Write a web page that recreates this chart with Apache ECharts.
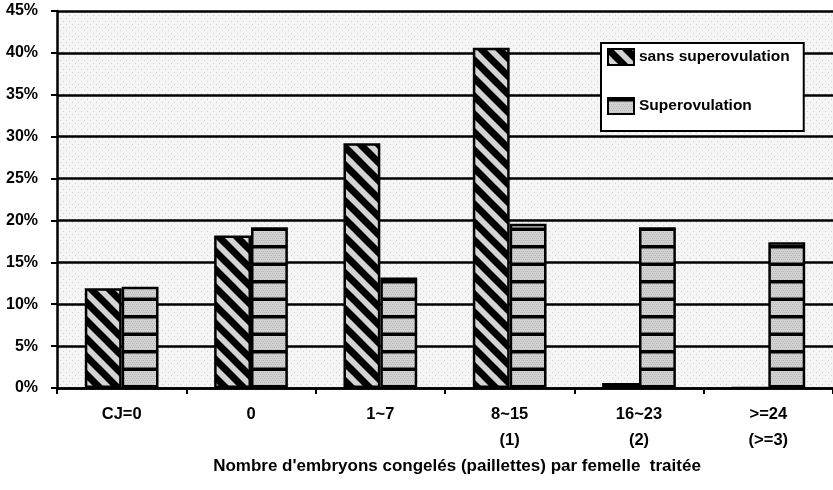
<!DOCTYPE html>
<html>
<head>
<meta charset="utf-8">
<script src="https://cdn.jsdelivr.net/npm/echarts@6/dist/echarts.min.js"></script>
<style>
html,body{margin:0;padding:0;background:#fff;}
#chart{width:833px;height:490px;}
</style>
</head>
<body>
<div id="chart"></div>
<script>
var categories = ['CJ=0', '0', '1~7', '8~15\n(1)', '16~23\n(2)', '>=24\n(>=3)'];
var seriesNames = ['sans superovulation', 'Superovulation'];
var sansValues = [11.9, 18.2, 29.2, 40.6, 0.6, 0];
var superValues = [12.1, 19.2, 13.2, 19.6, 19.2, 17.4];
var yTicks = { min: 0, max: 45, interval: 5 };
var xTitle = "Nombre d'embryons congelés (paillettes) par femelle  traitée";

function makeDiag() {
  var s = 18, c = document.createElement('canvas');
  c.width = s; c.height = s;
  var g = c.getContext('2d');
  g.fillStyle = '#d4d4d4'; g.fillRect(0, 0, s, s);
  g.strokeStyle = '#000'; g.lineWidth = 7; g.lineCap = 'square';
  for (var k = -1; k <= 1; k++) {
    g.beginPath(); g.moveTo(k * s - 2, -2); g.lineTo(k * s + s + 2, s + 2); g.stroke();
  }
  return c;
}
function makeStripe() {
  var w = 4, h = 35, c = document.createElement('canvas');
  c.width = w; c.height = h;
  var g = c.getContext('2d');
  g.fillStyle = '#d2d2d2'; g.fillRect(0, 0, w, h);
  g.fillStyle = '#b8b8b8';
  for (var y = 0; y < h; y += 2) for (var x = (y / 2) % 2; x < w; x += 2) g.fillRect(x, y, 1, 1);
  g.fillStyle = '#000';
  g.fillRect(0, 0, w, 3.5);
  g.fillRect(0, 17.5, w, 3.5);
  return c;
}
function makeBg() {
  var s = 6, c = document.createElement('canvas');
  c.width = s; c.height = s;
  var g = c.getContext('2d');
  g.fillStyle = '#f5f5f5'; g.fillRect(0, 0, s, s);
  g.fillStyle = '#d2d2d2';
  g.fillRect(0, 0, 1, 1); g.fillRect(3, 3, 1, 1);
  return c;
}

var chart = echarts.init(document.getElementById('chart'), null, { renderer: 'canvas' });
var font = 'Liberation Sans, Arial, sans-serif';
chart.setOption({
  animation: false,
  backgroundColor: '#fff',
  grid: {
    left: 57, right: 0, top: 11, bottom: 102,
    show: true, borderWidth: 0,
    backgroundColor: { image: makeBg(), repeat: 'repeat' }
  },
  legend: {
    orient: 'vertical',
    left: 601, top: 43,
    padding: [5, 14, 16, 6],
    itemGap: 31,
    itemWidth: 26, itemHeight: 16,
    backgroundColor: '#fff',
    borderColor: '#000', borderWidth: 2,
    textStyle: { fontFamily: font, fontSize: 15.5, fontWeight: 'bold', color: '#000' },
    data: seriesNames.map(function (n) { return { name: n, icon: 'rect' }; })
  },
  xAxis: {
    type: 'category',
    data: categories,
    name: xTitle,
    nameLocation: 'middle',
    nameGap: 67,
    nameTextStyle: { fontFamily: font, fontSize: 17, fontWeight: 'bold', color: '#000', padding: [0, 0, 0, 24] },
    axisLine: { lineStyle: { color: '#000', width: 2.5 } },
    axisTick: { show: true, length: 6, lineStyle: { color: '#000', width: 2 } },
    axisLabel: { fontFamily: font, fontSize: 16.5, fontWeight: 'bold', color: '#000', margin: 13, lineHeight: 26 },
    splitLine: { show: false }
  },
  yAxis: {
    type: 'value',
    min: yTicks.min, max: yTicks.max, interval: yTicks.interval,
    axisLine: { show: true, lineStyle: { color: '#000', width: 2.5 } },
    axisTick: { show: true, length: 6, lineStyle: { color: '#000', width: 2 } },
    axisLabel: { formatter: '{value}%', fontFamily: font, fontSize: 16, fontWeight: 'bold', color: '#000', margin: 19 },
    splitLine: { show: true, lineStyle: { color: '#000', width: 2.5 } }
  },
  series: [
    {
      name: seriesNames[0], type: 'bar', data: sansValues,
      barGap: '0%', barCategoryGap: '43%',
      itemStyle: { color: { image: makeDiag(), repeat: 'repeat' }, borderColor: '#000', borderWidth: 2.5 }
    },
    {
      name: seriesNames[1], type: 'bar', data: superValues,
      barGap: '0%', barCategoryGap: '43%',
      itemStyle: { color: { image: makeStripe(), repeat: 'repeat' }, borderColor: '#000', borderWidth: 2.5 }
    }
  ]
});
</script>
</body>
</html>
